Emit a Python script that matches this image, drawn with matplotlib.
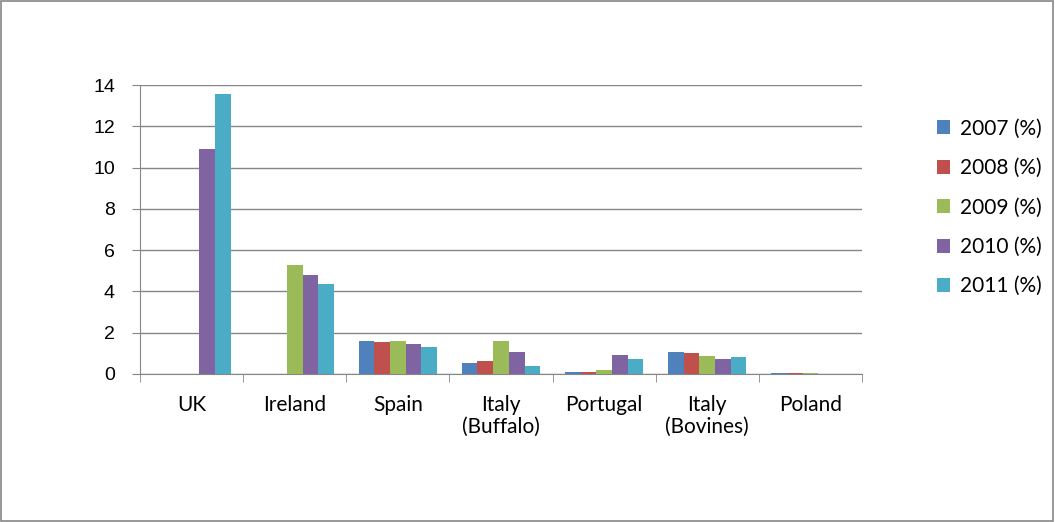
# bar chart of yearly percentages per region

import matplotlib.pyplot as plt
import numpy as np

regions = ['UK', 'Ireland', 'Spain', 'Italy\n(Buffalo)', 'Portugal', 'Italy\n(Bovines)', 'Poland']
years = ['2007 (%)', '2008 (%)', '2009 (%)', '2010 (%)', '2011 (%)']

y2007 = [0, 0, 1.62, 0.54, 0.10, 1.07, 0.06]
y2008 = [0, 0, 1.56, 0.64, 0.10, 1.02, 0.06]
y2009 = [0, 5.3, 1.62, 1.62, 0.20, 0.87, 0.06]
y2010 = [10.9, 4.8, 1.46, 1.07, 0.94, 0.75, 0]
y2011 = [13.57, 4.36, 1.30, 0.38, 0.75, 0.80, 0]

colors = ['#4F81BD', '#C0504D', '#9BBB59', '#8064A2', '#4BACC6']

plt.rcParams['font.family'] = ['Lato', 'DejaVu Sans']

fig = plt.figure(figsize=(10.55, 5.22), dpi=100)
ax = fig.add_axes([140 / 1055, 1 - 374 / 522, 722 / 1055, 289 / 522])

x = np.arange(len(regions))
w = 0.152
series = [y2007, y2008, y2009, y2010, y2011]
for i, vals in enumerate(series):
    ax.bar(x + (i - 2) * w, vals, w, color=colors[i], label=years[i], zorder=3)

ax.set_xlim(-0.5, len(regions) - 0.5)
ax.set_ylim(0, 14)
ax.set_yticks(range(0, 15, 2))
ax.yaxis.grid(True, color='#868686', linewidth=1)
ax.set_axisbelow(True)

ax.set_xticks(x)
ax.set_xticklabels(regions, fontsize=15, linespacing=1.15)
ax.set_xticks(np.arange(-0.5, len(regions)), minor=True)
ax.tick_params(axis='x', which='major', length=0, pad=15)
ax.tick_params(axis='x', which='minor', length=6, color='#868686')
ax.tick_params(axis='y', length=6, color='#868686', labelsize=14, pad=12)
for lab in ax.get_yticklabels():
    lab.set_fontfamily('Liberation Sans')

for s in ['top', 'right']:
    ax.spines[s].set_visible(False)
for s in ['left', 'bottom']:
    ax.spines[s].set_color('#868686')

fig.legend(loc='upper left', bbox_to_anchor=(918 / 1055, 1 - 100 / 522), frameon=False,
           fontsize=15, handlelength=0.65, handleheight=0.65, handletextpad=0.45,
           labelspacing=0.93)

# gray border around the whole picture
fig.patches.append(plt.Rectangle((0.001, 0.002), 0.997, 0.996, transform=fig.transFigure,
                                 fill=False, edgecolor='#868686', linewidth=1.2))

fig.savefig('out.png', dpi=100)
